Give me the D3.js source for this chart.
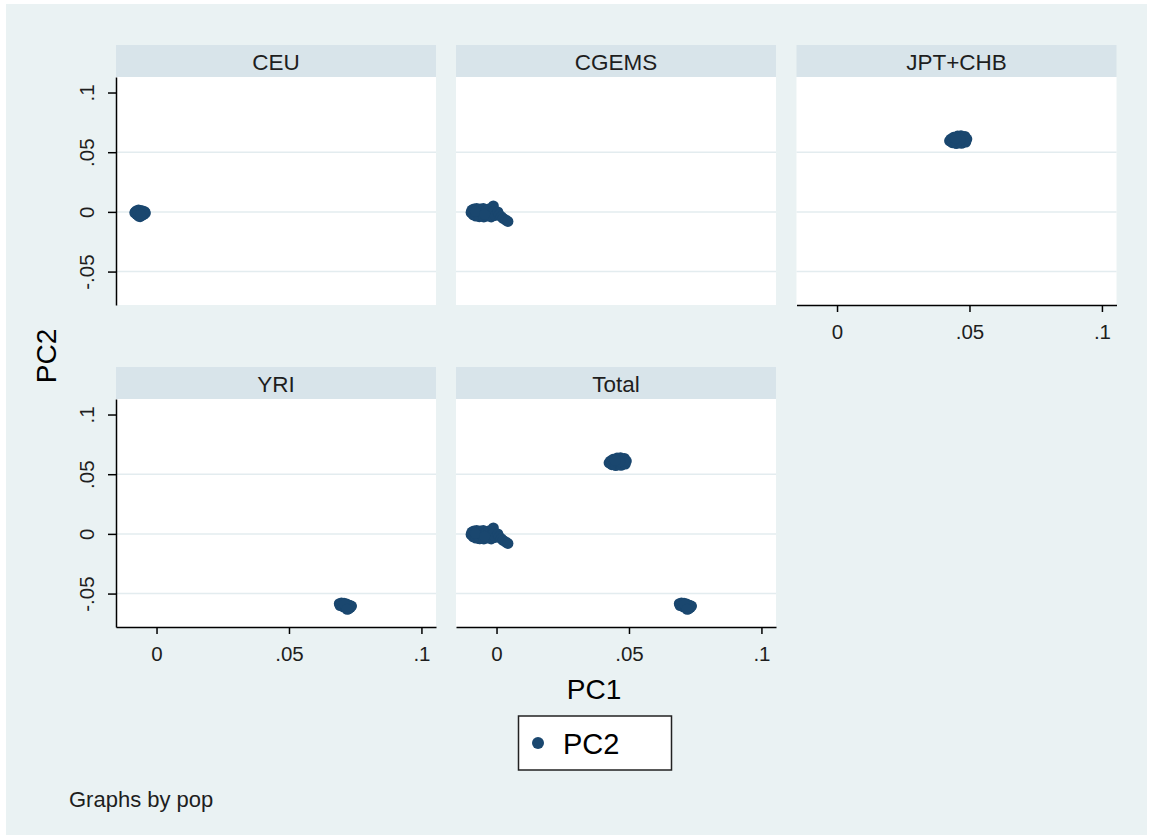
<!DOCTYPE html>
<html>
<head>
<meta charset="utf-8">
<script src="https://cdn.jsdelivr.net/npm/d3@7"></script>
<style>
  html, body { margin: 0; padding: 0; background: #ffffff; }
  svg { display: block; }
  text { font-family: "Liberation Sans", Arial, sans-serif; }
</style>
</head>
<body>
<svg id="chart" width="1153" height="839"></svg>
<script>
// ---- Data ----
const panels = ["CEU", "CGEMS", "JPT+CHB", "YRI", "Total"];
const xTicks = [0, 0.05, 0.1];
const yTicks = [-0.05, 0, 0.05, 0.1];
const gridTicks = [-0.05, 0, 0.05];
const xTitle = "PC1";
const yTitle = "PC2";
const legendLabel = "PC2";
const noteText = "Graphs by pop";

const ceuPC1 = [-0.0080,-0.0075,-0.0068,-0.0060,-0.0052,-0.0045,-0.0042,-0.0048,-0.0055,-0.0062,-0.0068,-0.0075,-0.0082,-0.0065,-0.0058,-0.0070,-0.0050,-0.0060];
const ceuPC2 = [ 0.0000, 0.0010, 0.0015, 0.0012, 0.0008, 0.0002,-0.0010,-0.0020,-0.0030,-0.0040,-0.0035,-0.0020,-0.0008,-0.0010,-0.0015, 0.0002,-0.0005,-0.0025];

const cgemsPC1 = [-0.0096,-0.0093,-0.0088,-0.0085,-0.0078,-0.0075,-0.0070,-0.0065,-0.0062,-0.0055,-0.0050,-0.0048,-0.0040,-0.0035,-0.0030,-0.0025,-0.0020,-0.0012,-0.0010,-0.0005,0.0005,0.0010,0.0018,0.0025,0.0035,0.0043,-0.0080,-0.0045];
const cgemsPC2 = [-0.0005, 0.0015,-0.0025, 0.0025,-0.0035, 0.0028, 0.0000,-0.0040, 0.0025,-0.0010, 0.0028,-0.0042, 0.0010,-0.0035, 0.0025,-0.0015,-0.0042, 0.0050, 0.0005,-0.0030,0.0000,-0.0025,-0.0040,-0.0055,-0.0068,-0.0080, 0.0005,-0.0020];

const jptPC1 = [0.0425,0.0430,0.0435,0.0440,0.0445,0.0450,0.0455,0.0458,0.0462,0.0468,0.0470,0.0475,0.0478,0.0483,0.0486,0.0490,0.0465,0.0448];
const jptPC2 = [0.0595,0.0610,0.0580,0.0625,0.0600,0.0572,0.0635,0.0612,0.0588,0.0638,0.0575,0.0620,0.0598,0.0632,0.0585,0.0610,0.0605,0.0615];

const yriPC1 = [0.0690,0.0693,0.0698,0.0702,0.0705,0.0708,0.0712,0.0715,0.0718,0.0722,0.0725,0.0728,0.0732,0.0736,0.0710,0.0720];
const yriPC2 = [-0.0585,-0.0600,-0.0578,-0.0595,-0.0612,-0.0582,-0.0600,-0.0620,-0.0588,-0.0608,-0.0628,-0.0598,-0.0615,-0.0605,-0.0590,-0.0632];

// ---- Build point tables ----
const pts = (xs, ys) => xs.map((x, i) => ({x: x, y: ys[i]}));
const ceu = pts(ceuPC1, ceuPC2);
const cgems = pts(cgemsPC1, cgemsPC2);
const jpt = pts(jptPC1, jptPC2);
const yri = pts(yriPC1, yriPC2);
const total = [].concat(ceu, cgems, jpt, yri);
const panelData = {"CEU": ceu, "CGEMS": cgems, "JPT+CHB": jpt, "YRI": yri, "Total": total};

// ---- Layout ----
const W = 1153, H = 839;
const colLeft = [116, 456, 796.5];
const rowTop = [77, 399];
const plotW = 320, plotH = 228, stripH = 32;
const markerColor = "#1a476f";
const bg = "#eaf2f3";
const stripColor = "#d8e4ea";
const gridColor = "#e3ecef";
const textColor = "#1e1e1e";

const svg = d3.select("#chart");
svg.append("rect").attr("x", 0).attr("y", 0).attr("width", W).attr("height", H).attr("fill", "#ffffff");
svg.append("rect").attr("x", 6).attr("y", 4).attr("width", W - 12).attr("height", H - 8).attr("fill", bg);

const x = d3.scaleLinear().domain([-0.0153, 0.1055]).range([0, plotW]);
const y = d3.scaleLinear().domain([-0.078, 0.113]).range([plotH, 0]);

const fmt = d => d === 0 ? "0" : d3.format(".2~f")(d).replace("\u2212", "-").replace("0.", ".");

const layout = {
  "CEU":     {c: 0, r: 0, left: true,  bottom: false},
  "CGEMS":   {c: 1, r: 0, left: false, bottom: false},
  "JPT+CHB": {c: 2, r: 0, left: false, bottom: true},
  "YRI":     {c: 0, r: 1, left: true,  bottom: true},
  "Total":   {c: 1, r: 1, left: false, bottom: true}
};

panels.forEach(name => {
  const L = layout[name];
  const gx = colLeft[L.c], gy = rowTop[L.r];
  const g = svg.append("g").attr("transform", `translate(${gx},${gy})`);

  // strip
  g.append("rect").attr("x", 0).attr("y", -stripH).attr("width", plotW).attr("height", stripH).attr("fill", stripColor);
  g.append("text").attr("x", plotW / 2).attr("y", -7).attr("text-anchor", "middle")
    .attr("font-size", 22.5).attr("fill", textColor).text(name);

  // plot region
  g.append("rect").attr("x", 0).attr("y", 0).attr("width", plotW).attr("height", plotH).attr("fill", "#ffffff");

  // grid
  g.selectAll(".grid").data(gridTicks).enter().append("line")
    .attr("x1", 0).attr("x2", plotW)
    .attr("y1", d => y(d)).attr("y2", d => y(d))
    .attr("stroke", gridColor).attr("stroke-width", 1.5);

  // points
  g.selectAll(".pt").data(panelData[name]).enter().append("circle")
    .attr("cx", d => x(d.x)).attr("cy", d => y(d.y)).attr("r", 5.5)
    .attr("fill", markerColor);

  if (L.left) {
    const ax = g.append("g").call(d3.axisLeft(y).tickValues(yTicks).tickFormat(fmt).tickSize(8).tickSizeOuter(0));
    ax.select(".domain").attr("stroke", "#000").attr("stroke-width", 1.5);
    ax.selectAll(".tick line").attr("stroke", "#000").attr("stroke-width", 1.5);
    ax.selectAll(".tick text")
      .attr("transform", "rotate(-90)")
      .attr("x", 0).attr("y", -22).attr("dy", 0)
      .attr("text-anchor", "middle")
      .attr("font-size", 20.5).attr("fill", textColor)
      .attr("font-family", "Liberation Sans, Arial, sans-serif");
  }
  if (L.bottom) {
    const ax = g.append("g").attr("transform", `translate(0,${plotH})`)
      .call(d3.axisBottom(x).tickValues(xTicks).tickFormat(fmt).tickSize(7).tickSizeOuter(0));
    ax.select(".domain").attr("stroke", "#000").attr("stroke-width", 1.5);
    ax.selectAll(".tick line").attr("stroke", "#000").attr("stroke-width", 1.5);
    ax.selectAll(".tick text")
      .attr("y", 34).attr("dy", 0)
      .attr("font-size", 20.5).attr("fill", textColor)
      .attr("font-family", "Liberation Sans, Arial, sans-serif");
  }
});

// axis titles
svg.append("text").attr("x", 594).attr("y", 699).attr("text-anchor", "middle")
  .attr("font-size", 28).attr("fill", "#000").text(xTitle);
svg.append("text").attr("transform", "translate(56,356) rotate(-90)").attr("text-anchor", "middle")
  .attr("font-size", 28).attr("fill", "#000").text(yTitle);

// legend
const lg = svg.append("g");
lg.append("rect").attr("x", 518.5).attr("y", 716).attr("width", 153).attr("height", 54)
  .attr("fill", "#ffffff").attr("stroke", "#222").attr("stroke-width", 1.5);
lg.append("circle").attr("cx", 538).attr("cy", 743).attr("r", 6).attr("fill", markerColor);
lg.append("text").attr("x", 563).attr("y", 754).attr("font-size", 29).attr("fill", "#000").text(legendLabel);

// note
svg.append("text").attr("x", 69).attr("y", 807).attr("font-size", 22).attr("fill", textColor).text(noteText);
</script>
</body>
</html>
